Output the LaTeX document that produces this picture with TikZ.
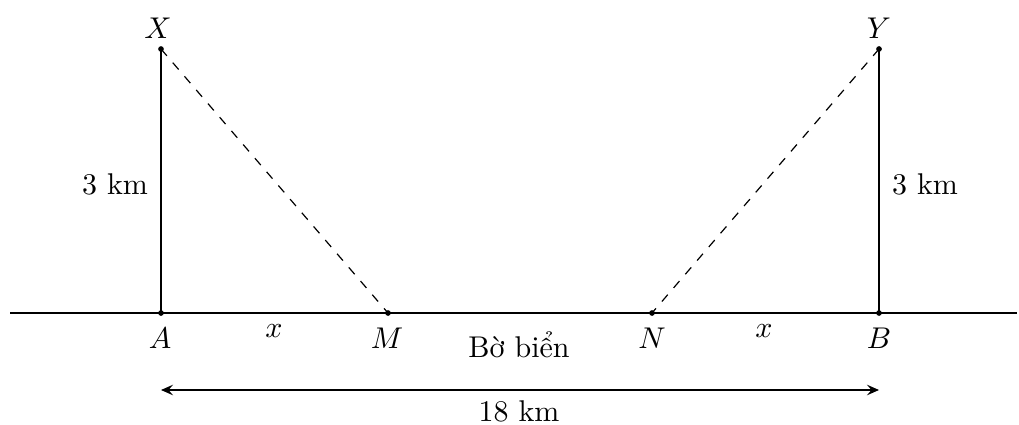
\documentclass[tikz,border=0pt]{standalone}
\usetikzlibrary{arrows.meta}
\begin{document}
\begin{tikzpicture}[x=0.3333pt,y=-0.3333pt,
  pt/.style={circle,fill=black,inner sep=0pt,minimum size=1.9pt},
  lbl/.style={inner sep=0pt,anchor=center},
  thickseg/.style={line width=0.7pt}]
\useasboundingbox (0,0) rectangle (1019,424);
\coordinate (L) at (10,313);
\coordinate (R) at (1017,313);
\node[pt] (A) at (161,313) {};
\node[pt] (X) at (161,49) {};
\node[pt] (M) at (388,313) {};
\node[pt] (N) at (652,313) {};
\node[pt] (B) at (879,313) {};
\node[pt] (Y) at (879,49) {};
\draw[line width=0.4pt] (L) -- (R);
\draw[thickseg] (A.center) -- (M.center);
\draw[thickseg] (N.center) -- (B.center);
\draw[line width=0.4pt] (A.center) -- (X.center);
\draw[line width=0.4pt] (B.center) -- (Y.center);
\draw[dashed,line width=0.4pt] (X.center) -- (M.center);
\draw[dashed,line width=0.4pt] (Y.center) -- (N.center);
\coordinate (P) at (161,390);
\coordinate (Q) at (879,390);
\draw[{Stealth[length=4pt,width=3.5pt,inset=1.5pt]}-{Stealth[length=4pt,width=3.5pt,inset=1.5pt]},line width=0.4pt] (P) -- (Q);
\node[lbl] (lX) at (158,28) {$X$};
\node[lbl] (lY) at (879,28) {$Y$};
\node[lbl] (lA) at (160,338) {$A$};
\node[lbl] (lM) at (387,338) {$M$};
\node[lbl] (lN) at (652,338) {$N$};
\node[lbl] (lB) at (879,338) {$B$};
\node[lbl] (lx1) at (274,331) {$x$};
\node[lbl] (lx2) at (764,331) {$x$};
\node[lbl] (h1) at (115,184) {3 km};
\node[lbl] (h2) at (925,184) {3 km};
\node[lbl] (shore) at (519,345) {Bờ biển};
\node[lbl] (d) at (519,411) {18 km};
\end{tikzpicture}
\end{document}
